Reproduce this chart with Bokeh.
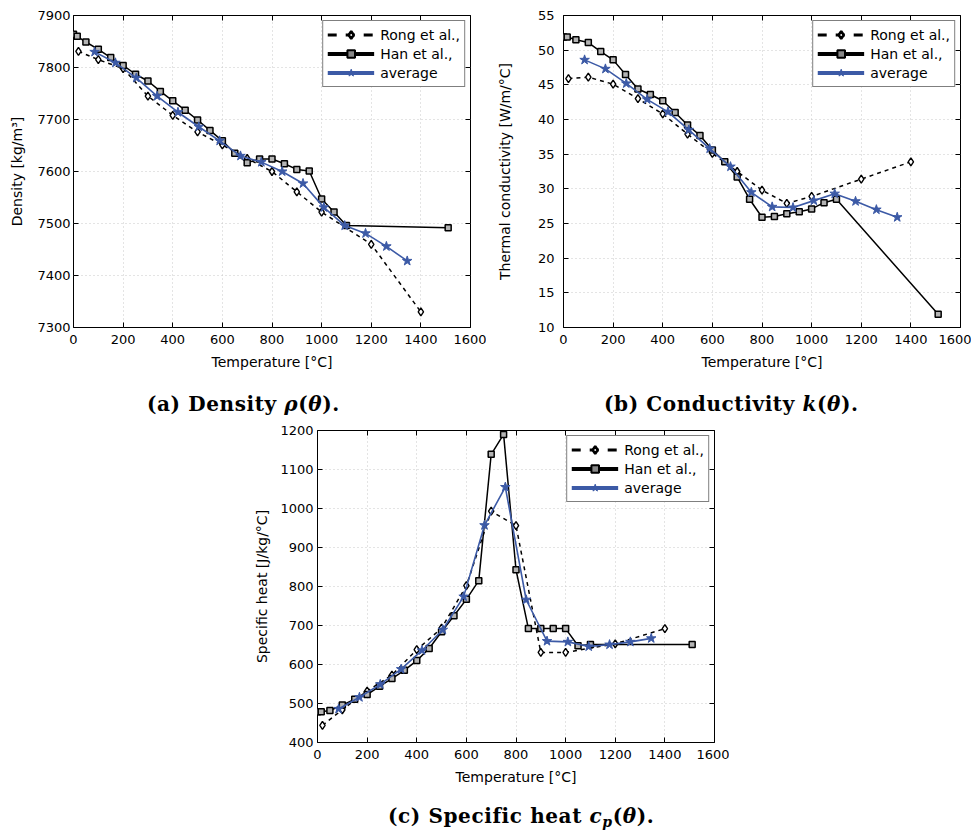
from bokeh.plotting import figure
from bokeh.models import (Legend, LegendItem, LinearAxis,
                          FixedTicker, Div, Spacer, Range1d)
from bokeh.layouts import column, row
from bokeh.embed import file_html
from bokeh.resources import INLINE

# ---------------- data ----------------
temp_rong = [20, 100, 200, 300, 400, 500, 600, 700, 800, 900, 1000, 1200, 1400]
temp_han = [0, 15, 50, 100, 150, 200, 250, 300, 350, 400, 450, 500, 550, 600,
            650, 700, 750, 800, 850, 900, 950, 1000, 1050, 1100, 1510]
temp_avg = [85, 169, 253, 337, 421, 505, 589, 673, 757, 841, 925, 1009, 1093,
            1177, 1261, 1345]

density_rong = [7831, 7815, 7798, 7745, 7708, 7676, 7651, 7625, 7600, 7561,
                7522, 7460, 7330]
density_han = [7864, 7860, 7849, 7835, 7819, 7804, 7787, 7774, 7754, 7736,
               7718, 7699, 7679, 7659, 7635, 7617, 7624, 7624, 7615, 7604,
               7601, 7547, 7522, 7496, 7492]
density_avg = [7830, 7809, 7780, 7745, 7714, 7686, 7659, 7630, 7618, 7600,
               7577, 7531, 7496, 7481, 7456, 7428]

cond_rong = [45.9, 46.1, 45.1, 43.0, 40.8, 37.9, 35.1, 32.5, 29.8, 27.9,
             28.9, 31.4, 33.9]
cond_han = [51.9, 51.9, 51.5, 51.1, 49.8, 48.6, 46.5, 44.4, 43.6, 42.7, 41.0,
            39.2, 37.7, 35.6, 33.9, 31.7, 28.5, 25.9, 26.0, 26.4, 26.7, 27.1,
            28.0, 28.5, 11.9]
cond_avg = [48.6, 47.3, 45.2, 42.9, 41.1, 38.5, 35.8, 33.2, 29.5, 27.4, 27.3,
            28.3, 29.3, 28.2, 27.0, 25.9]

cp_rong = [444, 484, 532, 573, 638, 693, 802, 993, 956, 631, 631, 653, 692]
cp_han = [479, 479, 482, 496, 511, 523, 544, 564, 585, 610, 641, 684, 725,
          767, 815, 1139, 1190, 843, 692, 692, 692, 692, 648, 651, 651]
cp_avg = [486, 516, 549, 588, 636, 689, 774, 957, 1055, 766, 660, 658, 646,
          651, 658, 667]

x_ticks = [0, 200, 400, 600, 800, 1000, 1200, 1400, 1600]
density_ticks = [7300, 7400, 7500, 7600, 7700, 7800, 7900]
cond_ticks = [10, 15, 20, 25, 30, 35, 40, 45, 50, 55]
cp_ticks = [400, 500, 600, 700, 800, 900, 1000, 1100, 1200]

series_labels = ["Rong et al.,", "Han et al.,", "average"]
x_label = "Temperature [°C]"

# ---------------- styling ----------------
FONT = "DejaVu Sans"
BLUE = "#3c5aa6"


def make_fig(yr, yticks, ylabel, b_left, b_right, ytick_standoff,
             ylabel_standoff, t_r, y_r, t_h, y_h, t_a, y_a):
    p = figure(frame_width=397, frame_height=312,
               x_range=Range1d(0, 1600), y_range=Range1d(*yr),
               output_backend="svg", toolbar_location=None,
               min_border_left=b_left, min_border_right=b_right,
               min_border_top=15, min_border_bottom=58)
    p.outline_line_color = "black"
    p.outline_line_width = 1
    p.outline_line_alpha = 1

    p.xaxis.ticker = FixedTicker(ticks=x_ticks)
    p.yaxis.ticker = FixedTicker(ticks=yticks)
    for ax in (p.xaxis[0], p.yaxis[0]):
        ax.axis_line_color = None
        ax.major_tick_in = 5
        ax.major_tick_out = 0
        ax.minor_tick_in = 0
        ax.minor_tick_out = 0
        ax.major_label_text_font = FONT
        ax.major_label_text_font_size = "13px"
        ax.major_label_text_color = "black"
        ax.axis_label_text_font = FONT
        ax.axis_label_text_font_size = "14px"
        ax.axis_label_text_font_style = "normal"
        ax.axis_label_text_color = "black"
    p.xaxis.axis_label = x_label
    p.xaxis.major_label_standoff = 7
    p.xaxis.axis_label_standoff = 7
    p.yaxis.axis_label = ylabel
    p.yaxis.major_label_standoff = ytick_standoff
    p.yaxis.axis_label_standoff = ylabel_standoff

    # inner ticks on top and right edges
    for loc, tk in (("above", x_ticks), ("right", yticks)):
        ax = LinearAxis(ticker=FixedTicker(ticks=tk),
                        major_label_overrides={t: "" for t in tk},
                        axis_line_color=None, major_tick_in=5,
                        major_tick_out=0, minor_tick_in=0, minor_tick_out=0,
                        major_label_standoff=0)
        p.add_layout(ax, loc)

    for g in (p.xgrid[0], p.ygrid[0]):
        g.grid_line_color = "#c8c8c8"
        g.grid_line_dash = "1 3"
        g.grid_line_width = 1
    p.xgrid.ticker = FixedTicker(ticks=x_ticks)
    p.ygrid.ticker = FixedTicker(ticks=yticks)

    # data
    p.line(t_r, y_r, line_color="black", line_width=1.5, line_dash="4 4")
    p.scatter(t_r, y_r, marker="diamond", size=8, fill_color="white",
              line_color="black", line_width=1.4)
    p.line(t_h, y_h, line_color="black", line_width=1.5)
    p.scatter(t_h, y_h, marker="square", size=6, fill_color="#b4b4b4",
              line_color="black", line_width=1.5)
    p.line(t_a, y_a, line_color=BLUE, line_width=1.6)
    p.scatter(t_a, y_a, marker="star", size=10, fill_color=BLUE,
              line_color=BLUE, line_width=1)

    # legend-only renderers (hidden; thicker legend glyphs as in reference)
    l1 = p.line(t_r, y_r, line_color="black", line_width=3, line_dash="9 9",
                visible=False)
    m1 = p.scatter(t_r, y_r, marker="diamond", size=12, fill_color="white",
                   line_color="black", line_width=2.5, visible=False)
    l2 = p.line(t_h, y_h, line_color="black", line_width=4, visible=False)
    m2 = p.scatter(t_h, y_h, marker="square", size=10, fill_color="#888888",
                   line_color="black", line_width=2, visible=False)
    l3 = p.line(t_a, y_a, line_color=BLUE, line_width=4, visible=False)
    m3 = p.scatter(t_a, y_a, marker="star", size=14, fill_color=BLUE,
                   line_color=BLUE, line_width=1, visible=False)
    leg = Legend(items=[LegendItem(label=series_labels[0], renderers=[l1, m1]),
                        LegendItem(label=series_labels[1], renderers=[l2, m2]),
                        LegendItem(label=series_labels[2], renderers=[l3, m3])],
                 location="top_right", margin=5, padding=4, spacing=0,
                 glyph_width=47, glyph_height=19, label_height=19,
                 label_standoff=6, border_line_color="black",
                 border_line_width=1, background_fill_alpha=1,
                 inactive_fill_alpha=0,
                 label_text_font=FONT, label_text_font_size="14px",
                 label_text_color="black")
    p.add_layout(leg)
    return p


pa = make_fig((7300, 7900), density_ticks, "Density [kg/m³]", 73, 16, 3, 9,
              temp_rong, density_rong, temp_han, density_han,
              temp_avg, density_avg)
pb = make_fig((10, 55), cond_ticks, "Thermal conductivity [W/m/°C]", 77, 11,
              9, 22, temp_rong, cond_rong, temp_han, cond_han,
              temp_avg, cond_avg)
pc = make_fig((400, 1200), cp_ticks, "Specific heat [J/kg/°C]", 70, 15, 4, 7,
              temp_rong, cp_rong, temp_han, cp_han, temp_avg, cp_avg)

CAP = ("font-family:'DejaVu Serif';font-size:20px;font-weight:bold;"
       "letter-spacing:0.6px;line-height:22px;color:black;white-space:nowrap;"
       "padding-top:%dpx;padding-left:%dpx;")

cap_a = Div(text='<div style="%s">(a) Density <i>ρ</i>(<i>θ</i>).</div>'
            % (CAP % (8, 147)), width=486, height=30, margin=0)
cap_b = Div(text='<div style="%s">(b) Conductivity <i>k</i>(<i>θ</i>).</div>'
            % (CAP % (8, 118)), width=485, height=30, margin=0)
cap_c = Div(text='<div style="%s">(c) Specific heat <i>c</i>'
            '<span style="font-size:14px;position:relative;top:4px;">'
            '<i>p</i></span>(<i>θ</i>).</div>'
            % (CAP % (5, 388)), width=971, height=33, margin=0)

layout = column(row(pa, pb), row(cap_a, cap_b),
                row(Spacer(width=247, height=385, margin=0), pc), cap_c)

open("out.html", "w").write(file_html(layout, INLINE))
